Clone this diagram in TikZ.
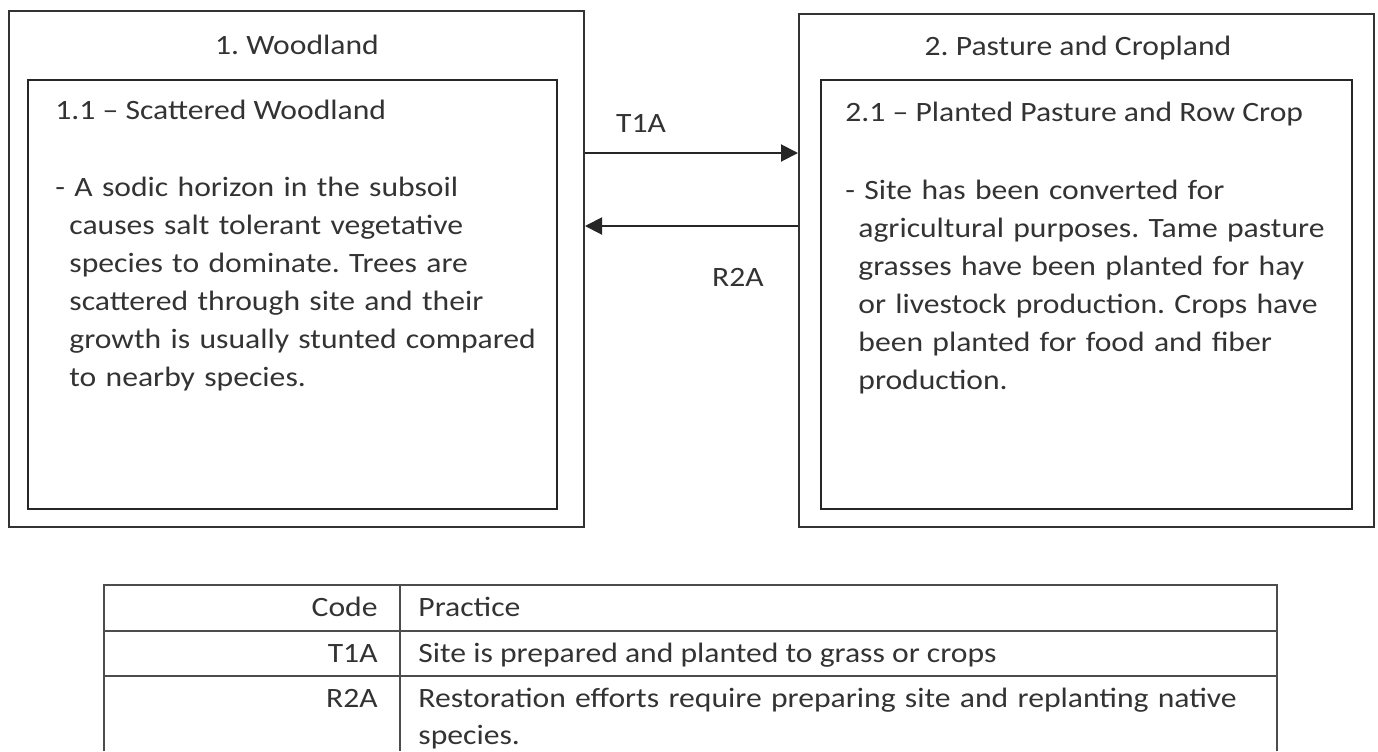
\documentclass[tikz,border=0pt]{standalone}
\usepackage{fontspec}
\setmainfont{Carlito}[FakeStretch=1.13]
\usepackage{tikz}
\usetikzlibrary{arrows.meta}
\frenchspacing

\tikzset{
  statebox/.style={draw=black!80, line width=1pt, inner sep=0pt},
  phasebox/.style={draw=black!85, line width=1.1pt, inner sep=0pt},
  boxtitle/.style={inner sep=0pt, text=black!80, font=\fontsize{14}{19}\selectfont},
  bodytext/.style={inner sep=0pt, text=black!80, align=left, anchor=base west,
    font=\fontsize{14}{19}\selectfont},
  flow/.style={draw=black!85, line width=1pt, -{Triangle[length=8.5pt,width=8.5pt]}},
  tablerule/.style={draw=black!70, line width=1.1pt},
  celltext/.style={inner sep=0pt, text=black!80, font=\fontsize{14}{18.5}\selectfont}
}

\begin{document}
\begin{tikzpicture}[x=0.5pt, y=-0.5pt]
        \useasboundingbox (0,0) rectangle (1378,751);

        % State 1
        \node[statebox, minimum width=287.5pt, minimum height=258pt] (woodland) at (296.5,269) {};
        \node[boxtitle, anchor=base] (woodlandtitle) at (297,54) {1. Woodland};
        \node[phasebox, minimum width=264.5pt, minimum height=214.5pt] (scattered) at (292.5,294.5) {};
        \node[boxtitle, anchor=base west] (scatteredtitle) at (55,119) {1.1 – Scattered Woodland};
        \node[bodytext, text width=320pt] (scatteredtext) at (55,196)
          {- A sodic horizon in the subsoil\\
           \hspace*{7pt}causes salt tolerant vegetative\\
           \hspace*{7pt}species to dominate. Trees are\\
           \hspace*{7pt}scattered through site and their\\
           \hspace*{7pt}growth is usually stunted compared\\
           \hspace*{7pt}to nearby species.};

        % State 2
        \node[statebox, minimum width=287.5pt, minimum height=256.5pt] (pasture) at (1086.5,270.5) {};
        \node[boxtitle, anchor=base] (pasturetitle) at (1078,55) {2. Pasture and Cropland};
        \node[phasebox, minimum width=265.5pt, minimum height=214.5pt] (rowcrop) at (1086.5,294.5) {};
        \node[boxtitle, anchor=base west] (rowcroptitle) at (845,121) {2.1 – Planted Pasture and Row Crop};
        \node[bodytext, text width=320pt] (rowcroptext) at (845,199)
          {- Site has been converted for\\
           \hspace*{6.5pt}agricultural purposes. Tame pasture\\
           \hspace*{6.5pt}grasses have been planted for hay\\
           \hspace*{6.5pt}or livestock production. Crops have\\
           \hspace*{6.5pt}been planted for food and fiber\\
           \hspace*{6.5pt}production.};

        % Transitions
        \draw[flow] (woodland.east |- 0,153) -- (pasture.west |- 0,153);
        \draw[flow] (pasture.west |- 0,226) -- (woodland.east |- 0,226);
        \node[boxtitle] (t1a) at (641,123) {T1A};
        \node[boxtitle] (r2a) at (738,277) {R2A};

        % Legend table
        \draw[tablerule] (104,751) -- (104,585) -- (1277,585) -- (1277,751);
        \draw[tablerule] (104,631) -- (1277,631);
        \draw[tablerule] (104,676) -- (1277,676);
        \draw[tablerule] (400,585) -- (400,751);
        \node[celltext, anchor=base east] (codehead) at (378,616) {Code};
        \node[celltext, anchor=base west] (practicehead) at (418,616) {Practice};
        \node[celltext, anchor=base east] (codet1a) at (378,662) {T1A};
        \node[celltext, anchor=base west] (practicet1a) at (418,662) {Site is prepared and planted to grass or crops};
        \node[celltext, anchor=base east] (coder2a) at (378,707) {R2A};
        \node[celltext, anchor=base west, align=left, text width=440pt] (practicer2a) at (418,707)
          {Restoration efforts require preparing site and replanting native\\ species.};
\end{tikzpicture}
\end{document}
